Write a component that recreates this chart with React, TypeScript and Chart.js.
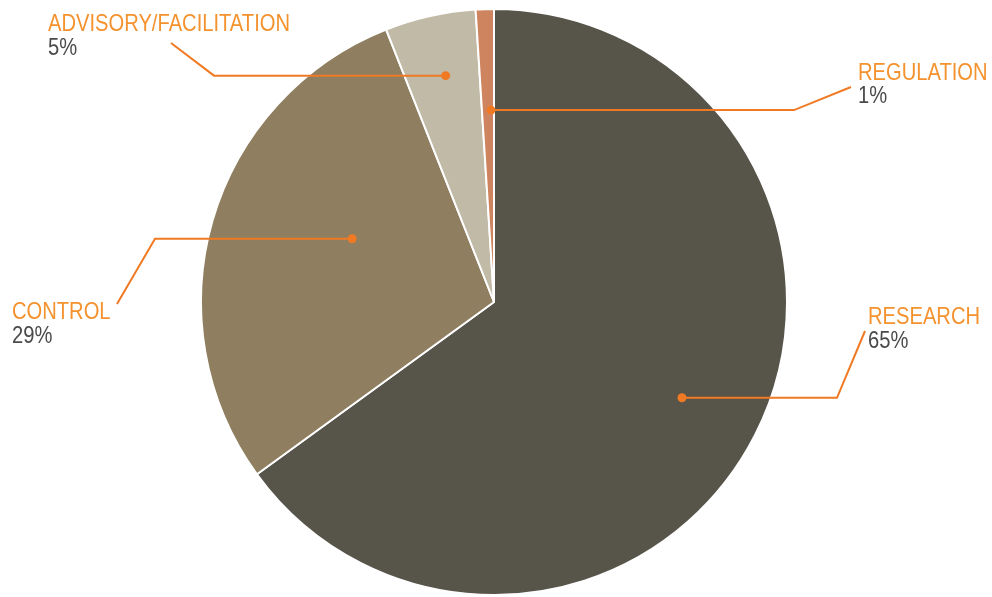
import React, { useEffect, useRef } from "react";
import { Chart, registerables } from "chart.js";

Chart.register(...registerables);

const categories = ["RESEARCH", "CONTROL", "ADVISORY/FACILITATION", "REGULATION"];
const values = [65, 29, 5, 1];
const percentLabels = ["65%", "29%", "5%", "1%"];
const colors = ["#57544A", "#8F7E5F", "#C0BAA6", "#CF8460"];

// label layout (offsets from pie centre, px) per category
const dotAngleFrac = [0.5, 0.575, 0.53, 0.75];
const dotRadiusFrac = [0.72, 0.53, 0.79, 0.655];
const elbowDx = [343, -339, -280, 300];
const endDx = [371, -377, -323, 357];
const endDy = [29, 2, -259, -215];
const textDx = [374, -482, -446, 364];
const nameDy = [22, 17, -271, -222];
const pctDy = [46, 41, -247, -199];

const FONT = "'Liberation Sans', Arial, sans-serif";
const NARROW = 0.84;

const labelPlugin = {
  id: "leaderLabels",
  afterDraw(chart: any) {
    const ctx = chart.ctx;
    const meta = chart.getDatasetMeta(0);
    ctx.save();
    meta.data.forEach((arc: any, i: number) => {
      const { x, y, startAngle, endAngle, outerRadius } = arc.getProps(
        ["x", "y", "startAngle", "endAngle", "outerRadius"],
        true
      );
      const a = startAngle + (endAngle - startAngle) * dotAngleFrac[i];
      const r = outerRadius * dotRadiusFrac[i];
      const dx = x + Math.cos(a) * r;
      const dy = y + Math.sin(a) * r;
      ctx.strokeStyle = "#F07A24";
      ctx.lineWidth = 2;
      ctx.beginPath();
      ctx.moveTo(dx, dy);
      ctx.lineTo(x + elbowDx[i], dy);
      ctx.lineTo(x + endDx[i], y + endDy[i]);
      ctx.stroke();
      ctx.fillStyle = "#F07A24";
      ctx.beginPath();
      ctx.arc(dx, dy, 4.5, 0, Math.PI * 2);
      ctx.fill();
      ctx.textAlign = "left";
      ctx.textBaseline = "alphabetic";
      ctx.font = `24px ${FONT}`;
      const tx = x + textDx[i];
      ctx.save();
      ctx.translate(tx, 0);
      ctx.scale(NARROW, 1);
      ctx.fillStyle = "#F4922E";
      ctx.fillText(categories[i], 0, y + nameDy[i]);
      ctx.fillStyle = "#4A4A4A";
      ctx.fillText(percentLabels[i], 0, y + pctDy[i]);
      ctx.restore();
    });
    ctx.restore();
  },
};

export default function App() {
  const ref = useRef<HTMLCanvasElement>(null);
  useEffect(() => {
    if (!ref.current) return;
    const chart = new Chart(ref.current, {
      type: "pie",
      data: {
        labels: categories,
        datasets: [
          {
            data: values,
            backgroundColor: colors,
            borderColor: "#FFFFFF",
            borderWidth: 2,
          },
        ],
      },
      options: {
        animation: false,
        responsive: true,
        maintainAspectRatio: false,
        layout: { padding: { top: 8, bottom: 1, left: 0, right: 4 } },
        plugins: { legend: { display: false }, tooltip: { enabled: false } },
      },
      plugins: [labelPlugin],
    });
    return () => chart.destroy();
  }, []);
  return (
    <div style={{ position: "absolute", left: 0, top: 0, width: 992, height: 597, background: "#fff" }}>
      <canvas ref={ref} />
    </div>
  );
}
